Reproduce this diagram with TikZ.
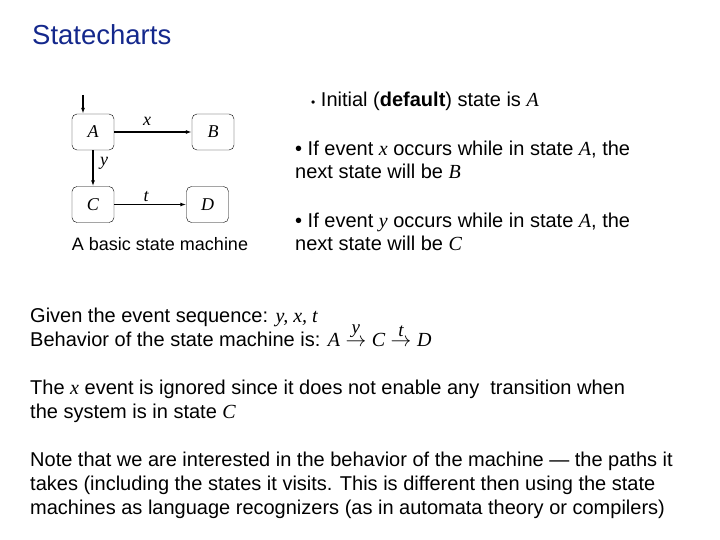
\documentclass[tikz,border=0pt]{standalone}
\usepackage{fontspec}
\setmainfont{Liberation Sans}
\newfontfamily\ser{Liberation Serif}
\usetikzlibrary{arrows.meta}
\newcommand{\vv}[1]{{\ser\itshape #1}}
\newcommand{\lab}[2]{\mathrel{\stackrel{\mbox{\fontsize{19}{20}\selectfont\vv{#1}}}{#2}}}
\begin{document}
\begin{tikzpicture}[x=1pt,y=-1pt,
  st/.style={draw,rounded corners=5pt,minimum width=42pt,minimum height=36pt,inner sep=0pt,font=\fontsize{18}{20}\selectfont\ser\itshape},
  tr/.style={-{Latex[length=6pt,width=4pt]},line width=1.2pt},
  lbl/.style={font=\fontsize{18}{20}\selectfont\ser\itshape,inner sep=0pt},
  txt/.style={anchor=base west,inner sep=0pt,font=\fontsize{20}{24}\selectfont}]
\useasboundingbox (0,0) rectangle (720,540);
\node[anchor=base west,inner sep=0pt,text={rgb,255:red,20;green,40;blue,140},font=\fontsize{27.5}{30}\selectfont] (title) at (32,45) {Statecharts};
\node[st] (A) at (93,132) {A};
\node[st] (B) at (213,132) {B};
\node[st] (C) at (93,204.5) {C};
\node[st] (D) at (207.5,204.5) {D};
\coordinate (init) at (83,95);
\draw[tr] (init) -- (init |- A.north);
\draw[tr] (A) -- (B);
\draw[tr] (A) -- (C);
\draw[tr] (C) -- (D);
\node[lbl] (lx) at (147,121) {x};
\node[lbl] (ly) at (104,163) {y};
\node[lbl] (lt) at (146,197) {t};
\node[anchor=base,inner sep=0pt,font=\fontsize{18}{20}\selectfont] (cap) at (160,251) {A basic state machine};
\node[txt] (t1) at (311,107) {{\fontsize{12}{12}\selectfont•} Initial (\textbf{default}) state is \vv{A}};
\node[txt,align=left] (t2) at (295,179) {• If event \vv{x} occurs while in state \vv{A}, the\\next state will be \vv{B}};
\node[txt,align=left] (t3) at (295,251) {• If event \vv{y} occurs while in state \vv{A}, the\\next state will be \vv{C}};
\node[txt] (t4) at (30,322) {Given the event sequence: \vv{y, x, t}};
\node[txt] (t5) at (30,346) {Behavior of the state machine is: \vv{A} $\lab{y}{\rightarrow}$ \vv{C} $\lab{t}{\rightarrow}$ \vv{D}};
\node[txt,align=left] (t6) at (30,418) {The \vv{x} event is ignored since it does not enable any\ \ transition when\\the system is in state \vv{C}};
\node[txt,align=left] (t7) at (30,514) {Note that we are interested in the behavior of the machine — the paths it\\takes (including the states it visits. This is different then using the state\\machines as language recognizers (as in automata theory or compilers)};
\end{tikzpicture}
\end{document}
